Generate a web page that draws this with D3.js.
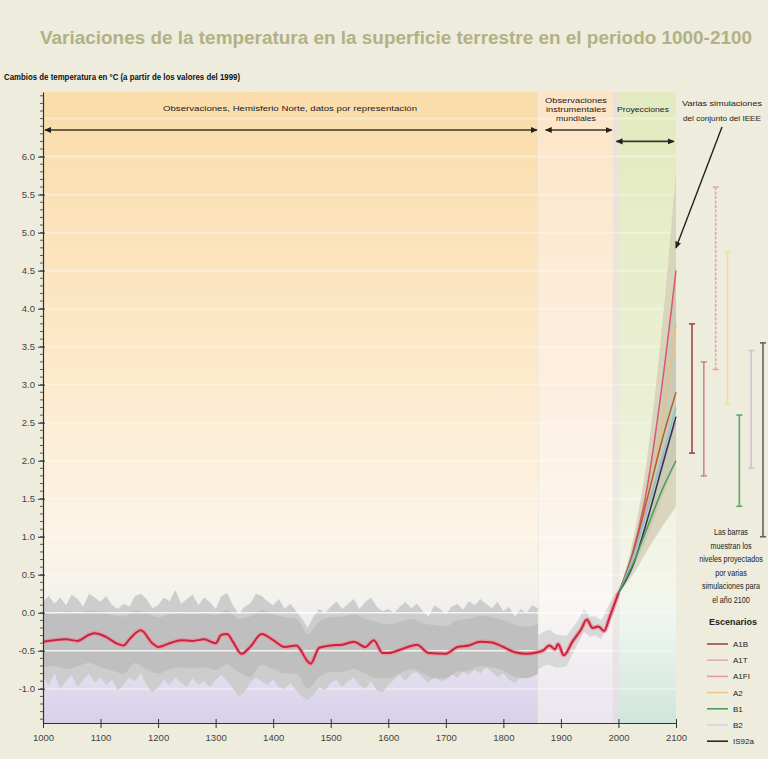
<!DOCTYPE html>
<html>
<head>
<meta charset="utf-8">
<script src="https://cdn.jsdelivr.net/npm/d3@7"></script>
<style>
body { margin: 0; background: #eeecdc; }
svg { display: block; font-family: "Liberation Sans", Arial, sans-serif; }
</style>
</head>
<body>
<div id="chart"></div>
<script>
// reconstruccion (envolvente gris), cada 10 años 1000-1860
var outerTop = [
    0.15, 0.22, 0.12, 0.2, 0.1, 0.24, 0.18, 0.08, 0.25, 0.2,
    0.14, 0.22, 0.1, 0.05, 0.12, 0.08, 0.22, 0.25, 0.18, 0.06,
    0.1, 0.2, 0.15, 0.3, 0.12, 0.18, 0.24, 0.1, 0.2, 0.14,
    0.05, 0.22, 0.26, 0.1, -0.02, 0.08, 0.12, 0.25, 0.22, 0.15,
    0.1, 0.18, 0.05, 0.12, 0.02, -0.08, -0.2, -0.05, 0.05, 0.0,
    0.08, 0.15, 0.05, 0.12, 0.18, 0.05, 0.14, 0.2, 0.08, 0.02,
    0.05, 0.0, 0.08, 0.14, 0.06, 0.12, 0.02, -0.05, 0.1, 0.05,
    -0.02, 0.08, 0.12, 0.04, 0.15, 0.1, 0.18, 0.12, 0.06, 0.14,
    0.02, 0.08, -0.05, 0.05, 0.0, 0.1, 0.06
];
var outerBottom = [
    -0.85, -0.95, -0.8, -1.0, -0.9, -0.82, -0.98, -0.88, -0.8, -0.92,
    -0.85, -0.95, -0.88, -1.02, -0.95, -0.85, -0.9, -0.8, -0.95, -1.05,
    -0.98, -0.88, -0.95, -0.85, -0.92, -0.98, -0.86, -0.95, -0.9, -0.98,
    -0.88, -0.82, -0.9, -1.0, -1.1, -1.05, -0.92, -0.85, -0.9, -0.95,
    -0.88, -0.98, -1.0, -0.92, -1.02, -1.1, -1.15, -1.08, -0.98, -1.02,
    -0.92, -0.88, -0.98, -0.9, -0.85, -0.95, -1.0, -0.9, -1.02, -1.05,
    -0.95, -0.88, -0.82, -0.9, -0.8, -0.78, -0.86, -0.92, -0.85, -0.9,
    -0.88, -0.8, -0.86, -0.78, -0.82, -0.75, -0.8, -0.72, -0.78, -0.85,
    -0.8, -0.88, -0.92, -0.85, -0.82, -0.78, -0.72
];
// banda interior, cada 20 años 1000-1860
var innerTop = [0.0, -0.02, 0.02, 0.0, 0.03, 0.01, -0.03, -0.05, 0.03, 0.0,
    -0.06, -0.02, 0.0, -0.02, 0.0, -0.03, 0.04, -0.08, -0.05, 0.04,
    -0.02, -0.06, -0.08, -0.28, -0.12, -0.06, -0.05, -0.02, -0.08, -0.12,
    -0.15, -0.12, -0.08, -0.14, -0.16, -0.18, -0.1, -0.08, -0.04, -0.06,
    -0.1, -0.16, -0.18, -0.15];
var innerBottom = [-0.72, -0.7, -0.74, -0.7, -0.66, -0.72, -0.76, -0.8, -0.66, -0.75,
    -0.8, -0.74, -0.72, -0.73, -0.72, -0.75, -0.68, -0.78, -0.85, -0.68,
    -0.74, -0.8, -0.8, -1.0, -0.84, -0.78, -0.78, -0.74, -0.8, -0.86,
    -0.86, -0.8, -0.74, -0.8, -0.86, -0.86, -0.78, -0.76, -0.7, -0.72,
    -0.76, -0.84, -0.86, -0.8];

// observaciones instrumentales 1860-2000
var instYears = [1860, 1870, 1880, 1890, 1900, 1910, 1920, 1930, 1940, 1950, 1960, 1970, 1980, 1990, 2000];
var instTop = [-0.3, -0.25, -0.22, -0.28, -0.3, -0.3, -0.2, -0.1, 0.05, -0.05, -0.05, -0.1, 0.05, 0.2, 0.32];
var instBottom = [-0.75, -0.7, -0.68, -0.72, -0.72, -0.7, -0.55, -0.4, -0.25, -0.32, -0.3, -0.35, -0.2, -0.05, 0.18];

// curva suavizada (roja)
var obsYears = [1000, 1020, 1040, 1060, 1080, 1090, 1110, 1130, 1140, 1150, 1170, 1190, 1200, 1220, 1240,
    1260, 1280, 1300, 1310, 1320, 1330, 1345, 1360, 1380, 1400, 1420, 1440, 1460, 1465, 1480,
    1500, 1520, 1540, 1560, 1575, 1590, 1600, 1630, 1650, 1670, 1700, 1720, 1740, 1760, 1780,
    1800, 1820, 1840, 1860, 1870, 1880, 1890, 1895, 1905, 1920, 1935, 1945, 1955, 1965, 1975,
    1985, 2000];
var obsTemps = [-0.38, -0.36, -0.35, -0.37, -0.29, -0.27, -0.32, -0.41, -0.43, -0.35, -0.23, -0.40, -0.45, -0.40, -0.36,
    -0.37, -0.35, -0.40, -0.29, -0.28, -0.38, -0.54, -0.45, -0.28, -0.36, -0.45, -0.43, -0.64, -0.67, -0.46,
    -0.43, -0.42, -0.38, -0.45, -0.36, -0.53, -0.53, -0.46, -0.42, -0.53, -0.54, -0.45, -0.43, -0.38, -0.39,
    -0.45, -0.52, -0.54, -0.52, -0.49, -0.43, -0.48, -0.41, -0.56, -0.38, -0.22, -0.09, -0.2, -0.18, -0.24,
    -0.05, 0.26];

// proyecciones 2000-2100
var projYears = [2000, 2025, 2050, 2075, 2100];
var envOuterTop = [0.26, 0.95, 2.05, 3.7, 5.8];
var envOuterBottom = [0.26, 0.5, 0.82, 1.12, 1.4];
var envInnerTop = [0.26, 0.85, 1.75, 3.0, 4.6];
var envInnerBottom = [0.26, 0.58, 1.0, 1.5, 2.0];
var projA1FI = [0.26, 0.8, 1.65, 2.95, 4.5];
var projA2 = [0.26, 0.72, 1.45, 2.45, 3.8];
var projA1B = [0.26, 0.78, 1.5, 2.25, 2.9];
var projB2 = [0.26, 0.72, 1.35, 2.02, 2.7];
var projA1T = [0.26, 0.74, 1.38, 1.98, 2.5];
var projIS92a = [0.26, 0.62, 1.22, 1.9, 2.58];
var projB1 = [0.26, 0.64, 1.12, 1.6, 2.0];

// barras 2100
var scenarios = ['A1B', 'A1T', 'A1FI', 'A2', 'B1', 'B2', 'IS92a'];
var barLow = [2.1, 1.8, 3.2, 2.75, 1.4, 1.9, 1.0];
var barHigh = [3.8, 3.3, 5.6, 4.75, 2.6, 3.45, 3.55];

var yTicks = [-1.0, -0.5, 0.0, 0.5, 1.0, 1.5, 2.0, 2.5, 3.0, 3.5, 4.0, 4.5, 5.0, 5.5, 6.0];
var xTicks = [1000, 1100, 1200, 1300, 1400, 1500, 1600, 1700, 1800, 1900, 2000, 2100];

var periods = [
    {name: 'obs', from: 1000, to: 1860},
    {name: 'inst', from: 1862, to: 1990},
    {name: 'strip', from: 1990, to: 2002},
    {name: 'proj', from: 2002, to: 2100}
];

var legendColors = {A1B: '#9a3f3f', A1T: '#dcaab0', A1FI: '#e895a8', A2: '#f2c48e', B1: '#3e9a4e', B2: '#cdd3e4', IS92a: '#1e1e1e'};
var lineColors = {A1FI: '#e0566e', A2: '#f0bc80', A1B: '#b0602c', B2: '#8cc0dc', A1T: '#e8a0b0', IS92a: '#2b3450', B1: '#4f9a55'};
var barColors = {A1B: '#9c4a48', A1T: '#c58a88', A1FI: '#e2a8a0', A2: '#f2dc98', B1: '#5aa86a', B2: '#cbc3d6', IS92a: '#6a625a'};

TempChart = function(_parentElement) {
    this.parentElement = _parentElement;
    this.initVis();
}

TempChart.prototype.initVis = function() {
    var vis = this;

    vis.width = 768;
    vis.height = 759;

    vis.svg = d3.select('#' + vis.parentElement)
        .append('svg')
        .attr('width', vis.width)
        .attr('height', vis.height);

    vis.svg.append('rect')
        .attr('width', vis.width)
        .attr('height', vis.height)
        .attr('fill', '#eeecdc');

    vis.x = d3.scaleLinear().domain([1000, 2100]).range([43, 676]);
    vis.y = d3.scaleLinear().domain([-1.45, 6.85]).range([723, 92]);

    vis.defs = vis.svg.append('defs');
    vis.addGradient('g-obs', [[0, '#fadcaa'], [0.4, '#fce8c8'], [0.7, '#fcf4e6'], [0.8, '#f4f2ee'], [0.9, '#e6e2ef'], [1, '#d8d0ea']]);
    vis.addGradient('g-inst', [[0, '#fde4c6'], [0.5, '#fdf0e2'], [0.8, '#faf7f4'], [1, '#ebe5f0']]);
    vis.addGradient('g-strip', [[0, '#e9e2d4'], [0.8, '#eeebe6'], [1, '#e2dde6']]);
    vis.addGradient('g-proj', [[0, '#e2eabf'], [0.5, '#ebf0d4'], [0.78, '#f3f5ea'], [0.84, '#eef5f0'], [1, '#cfe6dc']]);

    vis.defs.append('marker')
        .attr('id', 'arrow')
        .attr('viewBox', '0 -4 8 8')
        .attr('refX', 7).attr('refY', 0)
        .attr('markerUnits', 'userSpaceOnUse')
        .attr('markerWidth', 7).attr('markerHeight', 7)
        .attr('orient', 'auto-start-reverse')
        .append('path')
        .attr('d', 'M0,-3.5L8,0L0,3.5Z')
        .attr('fill', '#222');

    vis.drawBackground();
    vis.drawObservations();
    vis.drawProjections();
    vis.drawAxes();
    vis.drawLabels();
}

TempChart.prototype.addGradient = function(id, stops) {
    var vis = this;
    var g = vis.defs.append('linearGradient')
        .attr('id', id)
        .attr('gradientUnits', 'userSpaceOnUse')
        .attr('x1', 0).attr('x2', 0)
        .attr('y1', vis.y.range()[1]).attr('y2', vis.y.range()[0]);
    stops.forEach(function(s) {
        g.append('stop').attr('offset', s[0]).attr('stop-color', s[1]);
    });
}

TempChart.prototype.drawBackground = function() {
    var vis = this;

    vis.svg.selectAll('.period')
        .data(periods)
        .enter()
        .append('rect')
        .attr('class', 'period')
        .attr('x', function(d) { return vis.x(d.from); })
        .attr('width', function(d) { return vis.x(d.to) - vis.x(d.from); })
        .attr('y', vis.y.range()[1])
        .attr('height', vis.y.range()[0] - vis.y.range()[1])
        .attr('fill', function(d) { return 'url(#g-' + d.name + ')'; });

    // lineas horizontales tenues
    vis.svg.selectAll('.hgrid')
        .data(yTicks.concat([6.5]))
        .enter()
        .append('line')
        .attr('class', 'hgrid')
        .attr('x1', vis.x(1000)).attr('x2', vis.x(2100))
        .attr('y1', function(d) { return vis.y(d); })
        .attr('y2', function(d) { return vis.y(d); })
        .attr('stroke', '#fff')
        .attr('stroke-width', 2)
        .attr('opacity', 0.35);
}

TempChart.prototype.drawObservations = function() {
    var vis = this;

    var decades = d3.range(1000, 1861, 10);
    var outer = decades.map(function(yr, i) { return {year: yr, top: outerTop[i], bottom: outerBottom[i]}; });
    var twenty = d3.range(1000, 1861, 20);
    var inner = twenty.map(function(yr, i) { return {year: yr, top: innerTop[i], bottom: innerBottom[i]}; });
    var inst = instYears.map(function(yr, i) { return {year: yr, top: instTop[i], bottom: instBottom[i]}; });

    var area = d3.area()
        .x(function(d) { return vis.x(d.year); })
        .y0(function(d) { return vis.y(d.bottom); })
        .y1(function(d) { return vis.y(d.top); });

    vis.svg.append('path').datum(outer)
        .attr('d', area)
        .attr('fill', '#cdcdcd');

    vis.svg.append('path').datum(inner)
        .attr('d', area.curve(d3.curveMonotoneX))
        .attr('fill', '#bfbfbf');

    vis.svg.append('path').datum(inst)
        .attr('d', area.curve(d3.curveLinear))
        .attr('fill', '#d2d2d2')
        .attr('opacity', 0.8);

    // lineas blancas en 0.0 y -0.5
    vis.svg.selectAll('.zline')
        .data([0.0, -0.5])
        .enter()
        .append('line')
        .attr('x1', vis.x(1000)).attr('x2', vis.x(1990))
        .attr('y1', function(d) { return vis.y(d); })
        .attr('y2', function(d) { return vis.y(d); })
        .attr('stroke', '#fff')
        .attr('stroke-width', 1.5)
        .attr('opacity', 0.8);

    var obs = obsYears.map(function(yr, i) { return {year: yr, value: obsTemps[i]}; });
    var line = d3.line()
        .x(function(d) { return vis.x(d.year); })
        .y(function(d) { return vis.y(d.value); })
        .curve(d3.curveMonotoneX);

    vis.svg.append('path').datum(obs)
        .attr('d', line)
        .attr('fill', 'none')
        .attr('stroke', '#ec8a9a')
        .attr('stroke-width', 4.5)
        .attr('opacity', 0.7);

    vis.svg.append('path').datum(obs)
        .attr('d', line)
        .attr('fill', 'none')
        .attr('stroke', '#c8243e')
        .attr('stroke-width', 2);
}

TempChart.prototype.drawProjections = function() {
    var vis = this;

    var envelope = function(top, bottom) {
        return projYears.map(function(yr, i) { return {year: yr, top: top[i], bottom: bottom[i]}; });
    };
    var area = d3.area()
        .x(function(d) { return vis.x(d.year); })
        .y0(function(d) { return vis.y(d.bottom); })
        .y1(function(d) { return vis.y(d.top); })
        .curve(d3.curveMonotoneX);

    vis.svg.append('path').datum(envelope(envOuterTop, envOuterBottom))
        .attr('d', area)
        .attr('fill', '#d6d1bb')
        .attr('opacity', 0.9);

    vis.svg.append('path').datum(envelope(envInnerTop, envInnerBottom))
        .attr('d', area)
        .attr('fill', '#c5c8b2')
        .attr('opacity', 0.8);

    var series = [
        {name: 'A2', values: projA2},
        {name: 'A1T', values: projA1T},
        {name: 'A1FI', values: projA1FI},
        {name: 'A1B', values: projA1B},
        {name: 'B2', values: projB2},
        {name: 'IS92a', values: projIS92a},
        {name: 'B1', values: projB1}
    ];

    var line = d3.line()
        .x(function(d, i) { return vis.x(projYears[i]); })
        .y(function(d) { return vis.y(d); })
        .curve(d3.curveMonotoneX);

    vis.svg.selectAll('.proj')
        .data(series)
        .enter()
        .append('path')
        .attr('class', 'proj')
        .attr('d', function(d) { return line(d.values); })
        .attr('fill', 'none')
        .attr('stroke', function(d) { return lineColors[d.name]; })
        .attr('stroke-width', 1.5);

    // barras de 2100
    vis.barX = d3.scalePoint().domain(scenarios).range([692, 763]);
    var bars = scenarios.map(function(s, i) { return {name: s, low: barLow[i], high: barHigh[i]}; });

    var g = vis.svg.selectAll('.bar')
        .data(bars)
        .enter()
        .append('g')
        .attr('class', 'bar')
        .attr('stroke', function(d) { return barColors[d.name]; })
        .attr('stroke-width', 1.6);

    g.append('line')
        .attr('x1', function(d) { return vis.barX(d.name); })
        .attr('x2', function(d) { return vis.barX(d.name); })
        .attr('y1', function(d) { return vis.y(d.high); })
        .attr('y2', function(d) { return vis.y(d.low); })
        .attr('stroke-dasharray', function(d) { return d.name === 'A1FI' ? '3,1.5' : null; });

    ['low', 'high'].forEach(function(k) {
        g.append('line')
            .attr('x1', function(d) { return vis.barX(d.name) - 3; })
            .attr('x2', function(d) { return vis.barX(d.name) + 3; })
            .attr('y1', function(d) { return vis.y(d[k]); })
            .attr('y2', function(d) { return vis.y(d[k]); });
    });
}

TempChart.prototype.drawAxes = function() {
    var vis = this;

    var yAxis = d3.axisLeft(vis.y)
        .tickValues(yTicks)
        .tickSize(5)
        .tickSizeOuter(0)
        .tickFormat(function(d) { return d.toFixed(1); });

    var ya = vis.svg.append('g')
        .attr('transform', 'translate(' + vis.x(1000) + ',0)')
        .call(yAxis);

    ya.selectAll('.tick line').attr('x1', 2);

    var minor = d3.range(-14, 69).map(function(d) { return d / 10; });
    ya.selectAll('.minor')
        .data(minor)
        .enter()
        .append('line')
        .attr('x1', -3).attr('x2', 0)
        .attr('y1', function(d) { return vis.y(d); })
        .attr('y2', function(d) { return vis.y(d); })
        .attr('stroke', '#333')
        .attr('stroke-width', 0.8);

    var xAxis = d3.axisBottom(vis.x)
        .tickValues(xTicks)
        .tickSize(5)
        .tickSizeOuter(0)
        .tickFormat(d3.format('d'));

    var xa = vis.svg.append('g')
        .attr('transform', 'translate(0,' + vis.y(-1.45) + ')')
        .call(xAxis);

    xa.selectAll('.tick line').attr('y1', -4);

    vis.svg.selectAll('.domain').attr('stroke', '#333').attr('stroke-width', 1.2);
    vis.svg.selectAll('.tick line').attr('stroke', '#333');
    vis.svg.selectAll('.tick text')
        .attr('font-size', 9.5)
        .attr('fill', '#444')
        .attr('font-family', '"Liberation Sans", Arial, sans-serif');
    xa.selectAll('.tick text').attr('dy', '1.1em');
}

TempChart.prototype.drawLabels = function() {
    var vis = this;

    vis.svg.append('text')
        .attr('x', 40).attr('y', 44)
        .attr('textLength', 712)
        .attr('lengthAdjust', 'spacingAndGlyphs')
        .attr('font-size', 18)
        .attr('font-weight', 'bold')
        .attr('fill', '#b1b187')
        .text('Variaciones de la temperatura en la superficie terrestre en el periodo 1000-2100');

    vis.svg.append('text')
        .attr('x', 4).attr('y', 80)
        .attr('textLength', 236)
        .attr('lengthAdjust', 'spacingAndGlyphs')
        .attr('font-size', 9)
        .attr('font-weight', 'bold')
        .attr('fill', '#111')
        .text('Cambios de temperatura en °C (a partir de los valores del 1999)');

    var small = function(txt, xp, yp, len) {
        var t = vis.svg.append('text')
            .attr('x', xp).attr('y', yp)
            .attr('text-anchor', 'middle')
            .attr('font-size', 7.5)
            .attr('fill', '#222')
            .text(txt);
        if (len) t.attr('textLength', len).attr('lengthAdjust', 'spacingAndGlyphs');
        return t;
    };

    small('Observaciones, Hemisferio Norte, datos por representación', 290, 111, 254);
    small('Observaciones', 576, 103, 62);
    small('instrumentales', 576, 112, 60);
    small('mundiales', 576, 121, 40);
    small('Proyecciones', 643, 112, 52);
    small('Varias simulaciones', 722, 106, 80);
    small('del conjunto del IEEE', 722, 121, 78);

    var arrows = [
        {x1: 1000, x2: 1860, yv: 6.35},
        {x1: 1870, x2: 1990, yv: 6.35},
        {x1: 1993, x2: 2098, yv: 6.2}
    ];
    vis.svg.selectAll('.span-arrow')
        .data(arrows)
        .enter()
        .append('line')
        .attr('class', 'span-arrow')
        .attr('x1', function(d) { return vis.x(d.x1) + 2; })
        .attr('x2', function(d) { return vis.x(d.x2) - 1; })
        .attr('y1', function(d) { return vis.y(d.yv); })
        .attr('y2', function(d) { return vis.y(d.yv); })
        .attr('stroke', '#3a3424')
        .attr('stroke-width', 1.6)
        .attr('marker-start', 'url(#arrow)')
        .attr('marker-end', 'url(#arrow)');

    vis.svg.append('line')
        .attr('x1', 722).attr('y1', 127)
        .attr('x2', vis.x(2100)).attr('y2', vis.y(4.8))
        .attr('stroke', '#222')
        .attr('stroke-width', 1.4)
        .attr('marker-end', 'url(#arrow)');

    // texto condensado (escala horizontal) como en el original
    var note = ['Las barras', 'muestran los', 'niveles proyectados', 'por varias', 'simulaciones para', 'el año 2100'];
    vis.svg.selectAll('.note')
        .data(note)
        .enter()
        .append('text')
        .attr('class', 'note')
        .attr('transform', function(d, i) { return 'translate(731,' + (535 + i * 13.6) + ') scale(0.8,1)'; })
        .attr('text-anchor', 'middle')
        .attr('font-size', 9)
        .attr('fill', '#222')
        .text(function(d) { return d; });

    vis.svg.append('text')
        .attr('x', 733).attr('y', 625)
        .attr('text-anchor', 'middle')
        .attr('font-size', 9)
        .attr('font-weight', 'bold')
        .attr('fill', '#222')
        .text('Escenarios');

    var legend = vis.svg.selectAll('.legend')
        .data(scenarios)
        .enter()
        .append('g')
        .attr('class', 'legend')
        .attr('transform', function(d, i) { return 'translate(707,' + (644 + i * 16.2) + ')'; });

    legend.append('line')
        .attr('x1', 0).attr('x2', 21)
        .attr('stroke', function(d) { return legendColors[d]; })
        .attr('stroke-width', 1.5);

    legend.append('text')
        .attr('x', 26).attr('y', 3)
        .attr('font-size', 8)
        .attr('fill', '#222')
        .text(function(d) { return d; });
}

new TempChart('chart');
</script>
</body>
</html>
